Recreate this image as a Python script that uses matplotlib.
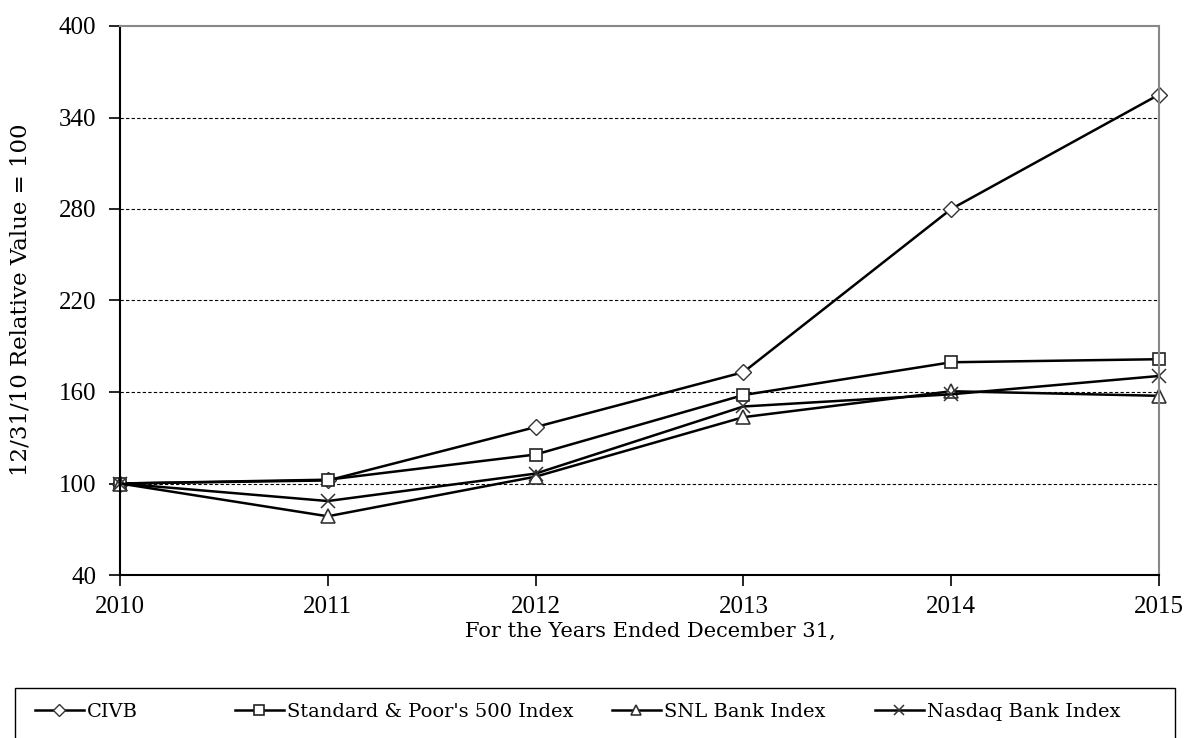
import matplotlib
matplotlib.use("Agg")
from matplotlib import pyplot as plt
from matplotlib.patches import Rectangle

years = [2010, 2011, 2012, 2013, 2014, 2015]
civb = [100, 102, 137, 173, 280, 355]
sp500 = [100, 102.5, 119, 158, 179.5, 181.5]
snl = [100, 78.5, 104.5, 143.5, 160.5, 157.5]
nasdaq = [100, 88.5, 106.5, 150.5, 158.5, 170.5]
yticks = [40, 100, 160, 220, 280, 340, 400]
names = ['CIVB', "Standard & Poor's 500 Index", 'SNL Bank Index', 'Nasdaq Bank Index']

plt.rcParams['font.family'] = ['Liberation Serif', 'DejaVu Serif']
W, H = 1188, 738

fig = plt.figure(figsize=(W / 100, H / 100), dpi=100)
ax = fig.add_axes([120 / W, 1 - 575 / H, (1159 - 120) / W, (575 - 26) / H])

l1, = ax.plot(years, civb, color='black', lw=1.8, marker='D', ms=8, mfc='white', mec='#333333', mew=1,
              label=names[0], clip_on=False)
l2, = ax.plot(years, sp500, color='black', lw=1.8, marker='s', ms=9, mfc='white', mec='#222222', mew=1.2,
              label=names[1], clip_on=False)
l3, = ax.plot(years, snl, color='black', lw=1.8, marker='^', ms=9.5, mfc='white', mec='#333333', mew=1.2,
              label=names[2], clip_on=False)
l4, = ax.plot(years, nasdaq, color='black', lw=1.8, marker='x', ms=10.5, mec='#333333', mew=1.1,
              label=names[3], clip_on=False)

ax.set_xlim(2010, 2015)
ax.set_ylim(40, 400)
ax.set_xticks(years)
ax.set_yticks(yticks)
ax.tick_params(labelsize=18, direction='out', length=8, width=1.2, colors='black')
ax.tick_params(axis='y', pad=9)
ax.tick_params(axis='x', pad=7)
for y in yticks[1:-1]:
    ax.axhline(y, color='black', lw=0.8, ls=(0, (3, 2)), zorder=0)

ax.spines['left'].set_linewidth(1.5)
ax.spines['bottom'].set_linewidth(1.5)
for s in ['top', 'right']:
    ax.spines[s].set_color('#888888')
    ax.spines[s].set_linewidth(1.5)

fig.text(21 / W, 1 - 300 / H, '12/31/10 Relative Value = 100', rotation=90, ha='center', va='center',
         fontsize=16.5, family='DejaVu Serif')
fig.text(650 / W, 1 - 631 / H, 'For the Years Ended December 31,', ha='center', va='center',
         fontsize=15, family='DejaVu Serif')

# legend box, cut off by the bottom edge like the original
fig.patches.append(Rectangle((15 / W, -0.05), (1175 - 15) / W, 0.05 + 1 - 688 / H,
                             transform=fig.transFigure, fill=False, edgecolor='black', lw=1.0))
xpos = [35, 235, 612, 875]
for line, name, x in zip([l1, l2, l3, l4], names, xpos):
    lg = fig.legend([line], [name], loc='center left', bbox_to_anchor=(x / W, 1 - 712 / H),
                    frameon=False, borderpad=0, borderaxespad=0, handlelength=2.5, handletextpad=0.15,
                    markerscale=0.75, prop={'family': 'DejaVu Serif', 'size': 14})

fig.savefig('out.png', dpi=100)
